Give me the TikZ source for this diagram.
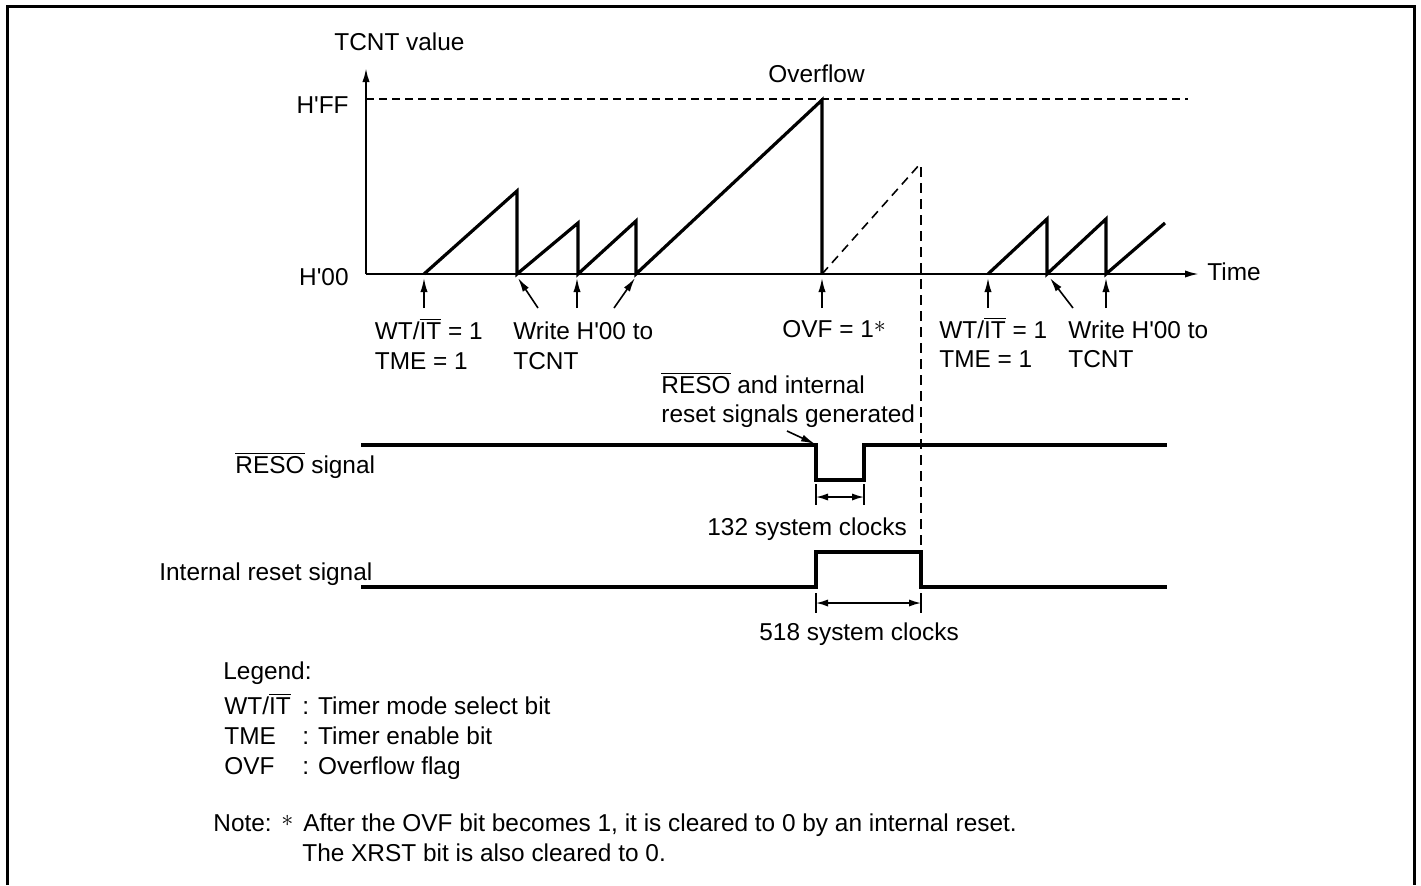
\documentclass[tikz,border=0pt]{standalone}
\usepackage{fontspec}
\setmainfont{Liberation Sans}[Ligatures=TeXOff]
\usetikzlibrary{arrows.meta}
\newcommand{\ovl}[1]{$\overline{\mbox{#1}}$}

\begin{document}
\begin{tikzpicture}[x=0.5pt, y=-0.5pt,
  txt/.style={inner sep=0pt, anchor=base west, font=\fontsize{12.2}{14}\selectfont},
  axis/.style={line width=1pt},
  wave/.style={line width=1.6pt, line join=miter},
  fine dash/.style={line width=0.8pt, dash pattern=on 4.5pt off 3pt},
  ptr/.style={line width=0.8pt, -{Latex[length=7pt,width=3.6pt]}},
  span/.style={line width=0.8pt, {Latex[length=6pt,width=3.6pt]}-{Latex[length=6pt,width=3.6pt]}}]

\useasboundingbox (0,0) rectangle (1421,885);
% frame
\draw[line width=1.8pt] (7.5,885) -- (7.5,6.5) -- (1414.5,6.5) -- (1414.5,885);

% --- TCNT ---
 % axes
  \coordinate (org) at (366,274);
  \coordinate (ytip) at (366,68);
  \coordinate (xtip) at (1199,274);
  \draw[axis, -{Latex[length=7pt,width=3.6pt]}] (org) -- (ytip);
  \draw[axis, -{Latex[length=7pt,width=3.6pt]}] (org) -- (xtip);
  \draw[line width=0.8pt, dash pattern=on 4pt off 2.5pt] (366,99) -- (1188,99);

  \node[txt] (tcnt) at (334,50) {TCNT value};
  \node[txt, anchor=base east] (hff) at (349,113) {H'FF};
  \node[txt, anchor=base east] (hzero) at (349,285) {H'00};
  \node[txt] (time) at (1207,280) {Time};
  \node[txt] (ovfl) at (768,82) {Overflow};

 % counter
  \draw[wave] (424,274) -- (517,191) -- (517,274) -- (578,223) -- (578,274)
    -- (636,221) -- (636,274) -- (822,100) -- (822,274);
  \draw[fine dash] (822,274) -- (920,164);
  \draw[wave] (988,274) -- (1047,219) -- (1047,274) -- (1106,219) -- (1106,274)
    -- (1165,223);

 % events
  \foreach \name/\x/\tx in {a/424/424, b/538/518, c/577/577, d/614/635, e/822/822,
                            f/988/988, g/1073/1050, h/1106/1106} {
    \coordinate (\name0) at (\x,308);
    \coordinate (\name1) at (\tx,278);
    \draw[ptr] (\name0) -- (\name1);
  }

  \node[txt] (wtone) at (374.5,339) {WT/\ovl{IT} = 1};
  \node[txt] (tmeone) at (374.5,369) {TME = 1};
  \node[txt] (wrone) at (513,339) {Write H'00 to};
  \node[txt] (tcntone) at (513,369) {TCNT};
  \node[txt] (ovfset) at (782,337) {OVF = 1\raisebox{2.5pt}{$\ast$}};
  \node[txt] (wttwo) at (939,338) {WT/\ovl{IT} = 1};
  \node[txt] (tmetwo) at (939,367) {TME = 1};
  \node[txt] (wrtwo) at (1068,338) {Write H'00 to};
  \node[txt] (tcnttwo) at (1068,367) {TCNT};

% --- RESET SIGNALS ---
  \draw[fine dash, dash pattern=on 5pt off 3pt] (921,167) -- (921,552);

  \node[txt] (gen1) at (661,393) {\ovl{RESO} and internal};
  \node[txt] (gen2) at (661,422) {reset signals generated};
  \coordinate (gen) at (787,431);
  \coordinate (fall) at (815,444);
  \draw[ptr] (gen) -- (fall);

 % RESO
  \draw[wave] (361,445) -- (816,445) -- (816,480) -- (864,480) -- (864,445) -- (1167,445);
  \node[txt] (reso) at (235,473) {\ovl{RESO} signal};
  \draw[line width=0.8pt] (816,484) -- (816,505) (864,484) -- (864,505);
  \coordinate (sa) at (816,497);
  \coordinate (sb) at (864,497);
  \draw[span] (sa) -- (sb);
  \node[txt] (clk132) at (707,535) {132 system clocks};

 % internal reset
  \draw[wave] (361,587) -- (816,587) -- (816,552) -- (921,552) -- (921,587) -- (1167,587);
  \node[txt] (intrst) at (159,580) {Internal reset signal};
  \draw[line width=0.8pt] (816,593) -- (816,613) (921,593) -- (921,613);
  \coordinate (la) at (816,603);
  \coordinate (lb) at (921,603);
  \draw[span] (la) -- (lb);
  \node[txt] (clk518) at (759,640) {518 system clocks};

% --- LEGEND ---
  \node[txt] (leg) at (223,679) {Legend:};
  \foreach \name/\y/\key/\desc in {wt/714/{WT/\ovl{IT}}/Timer mode select bit,
                                   tme/744/TME/Timer enable bit,
                                   ovf/774/OVF/Overflow flag} {
    \node[txt] (\name key) at (224,\y) {\key};
    \node[txt] (\name desc) at (302,\y) {: \desc};
  }

  \node[txt] (note) at (213,831) {Note:};
  \node[txt] (star) at (281,831) {\raisebox{2.5pt}{$\ast$}};
  \node[txt] (note1) at (303,831) {After the OVF bit becomes 1, it is cleared to 0 by an internal reset.};
  \node[txt] (note2) at (302,861) {The XRST bit is also cleared to 0.};
\end{tikzpicture}
\end{document}
